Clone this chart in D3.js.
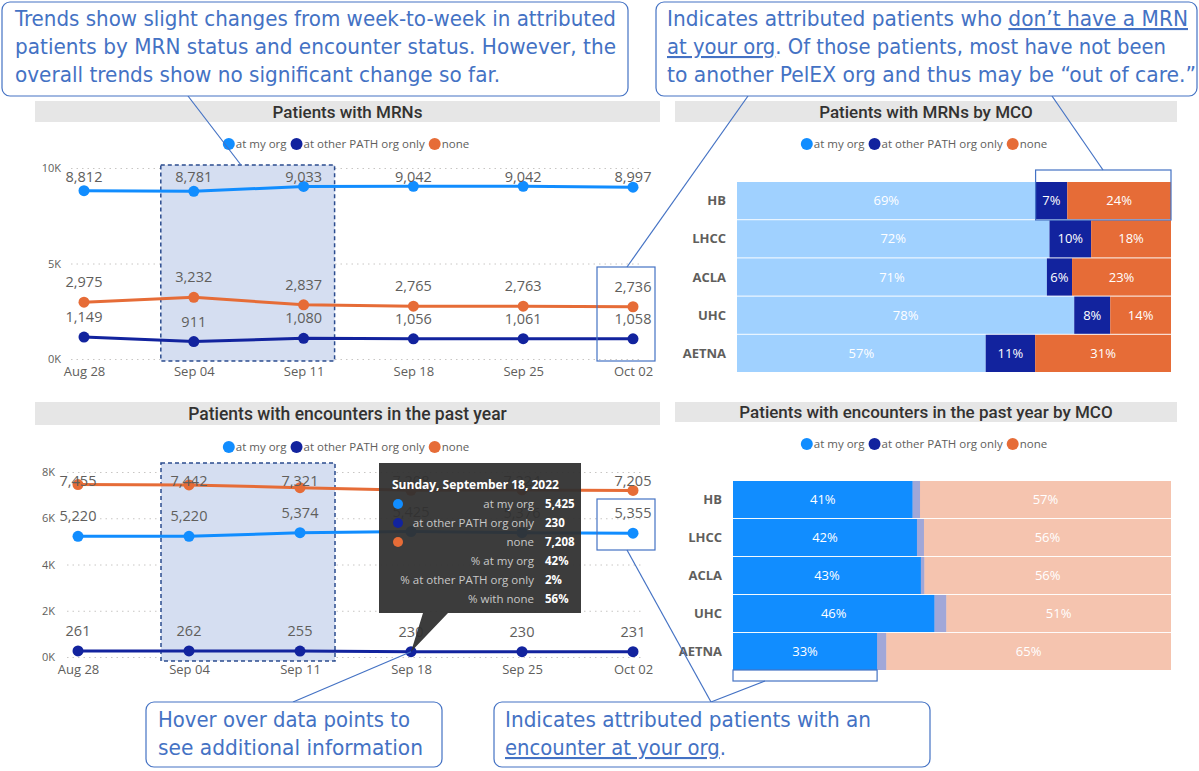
<!DOCTYPE html>
<html>
<head>
<meta charset="utf-8">
<script src="https://cdn.jsdelivr.net/npm/d3@7"></script>
<style>
	body { margin: 0; background: #fff; }
	svg text { font-family: "Open Sans", "Noto Sans", sans-serif; }
	.title { font-family: Roboto, sans-serif !important; font-weight: 500; fill: #333231; }
	.note { font-family: "Liberation Sans Narrow", "DejaVu Sans Condensed", sans-serif !important; fill: #4472C4; }
</style>
</head>
<body>
<div id="chart"></div>
<script>
// weeks on the x axis
var weeks = ['Aug 28', 'Sep 04', 'Sep 11', 'Sep 18', 'Sep 25', 'Oct 02'];
var seriesNames = ['at my org', 'at other PATH org only', 'none'];

// patients with MRNs
var mrnMyOrg = [8812, 8781, 9033, 9042, 9042, 8997];
var mrnOther = [1149, 911, 1080, 1056, 1061, 1058];
var mrnNone = [2975, 3232, 2837, 2765, 2763, 2736];

// patients with encounters in the past year
var encMyOrg = [5220, 5220, 5374, 5425, 5376, 5355];
var encOther = [261, 262, 255, 230, 230, 231];
var encNone = [7455, 7442, 7321, 7208, 7224, 7205];

// by MCO (percent of patients)
var mcos = ['HB', 'LHCC', 'ACLA', 'UHC', 'AETNA'];
var mcoMrnMyOrg = [68.8, 72.0, 71.4, 77.7, 57.3];
var mcoMrnOther = [7.3, 9.6, 5.8, 8.3, 11.4];
var mcoMrnNone = [23.9, 18.4, 22.8, 14.0, 31.3];
var mcoEncMyOrg = [41.0, 42.0, 42.9, 46.0, 32.9];
var mcoEncOther = [1.7, 1.6, 0.8, 2.7, 2.1];
var mcoEncNone = [57.3, 56.4, 56.3, 51.3, 65.0];

// y tick values
var mrnTicks = [0, 5000, 10000];
var encTicks = [0, 2000, 4000, 6000, 8000];

// tooltip shown on the encounters chart
var tipTitle = 'Sunday, September 18, 2022';
var tipIndex = 3;

var colors = ['#118DFF', '#12239E', '#E66C37'];
var noteBlue = '#4472C4';

var svg = d3.select('#chart')
	.append('svg')
	.attr('width', 1199)
	.attr('height', 771);

var back = svg.append('g');
var front = svg.append('g');

// title bar above each visual
function drawTitle(x0, x1, y0, y1, label, size) {
	back.append('rect')
		.attr('x', x0).attr('y', y0)
		.attr('width', x1 - x0).attr('height', y1 - y0)
		.attr('fill', '#E6E6E6');
	back.append('text')
		.classed('title', true)
		.attr('x', (x0 + x1) / 2)
		.attr('y', (y0 + y1) / 2)
		.attr('dy', '0.36em')
		.attr('text-anchor', 'middle')
		.style('font-size', size + 'px')
		.text(label);
}

// legend row, centred on cx
function drawLegend(cx, y) {
	var g = back.append('g');
	var pos = 0;
	seriesNames.forEach(function(name, i) {
		g.append('circle')
			.attr('cx', pos + 6).attr('cy', y)
			.attr('r', 6)
			.attr('fill', colors[i]);
		var t = g.append('text')
			.attr('x', pos + 13).attr('y', y)
			.attr('dy', '0.35em')
			.attr('fill', '#605E5C')
			.style('font-size', '11.5px')
			.text(name);
		pos += 13 + t.node().getComputedTextLength() + 4;
	});
	g.attr('transform', `translate(${cx - pos / 2},0)`);
}

function drawLineChart(c) {
	var xScale = d3.scalePoint().domain(weeks).range([c.x0, c.x1]);
	var yScale = d3.scaleLinear().domain([0, c.max]).range([c.yBottom, c.yTop]);

	// grid + y labels
	var yAxis = back.append('g')
		.attr('transform', `translate(${c.gridX0},0)`)
		.call(d3.axisLeft(yScale)
			.tickValues(c.ticks)
			.tickFormat(d => (d / 1000) + 'K')
			.tickSize(-(c.gridX1 - c.gridX0))
			.tickPadding(c.tickPad));
	yAxis.select('.domain').remove();
	yAxis.selectAll('line')
		.attr('stroke', '#C8C6C4')
		.attr('stroke-dasharray', '1.5,4');
	yAxis.selectAll('text')
		.attr('fill', '#605E5C')
		.style('font-size', '11px');

	// x labels
	var xAxis = back.append('g')
		.attr('transform', `translate(0,${c.yBottom})`)
		.call(d3.axisBottom(xScale).tickSize(0).tickPadding(c.xPad));
	xAxis.select('.domain').remove();
	xAxis.selectAll('text')
		.attr('fill', '#605E5C')
		.style('font-size', '13px');

	// selected weeks
	var hx0 = xScale(weeks[1]) - c.hlLeft,
		hx1 = xScale(weeks[2]) + c.hlRight;
	back.append('rect')
		.attr('x', hx0)
		.attr('y', c.hlTop)
		.attr('width', hx1 - hx0)
		.attr('height', c.hlBottom - c.hlTop)
		.attr('fill', '#D5DEF1')
		.attr('stroke', '#2B4C8F')
		.attr('stroke-width', 1.5)
		.attr('stroke-dasharray', '4,3');

	var line = d3.line()
		.x((d, i) => xScale(weeks[i]))
		.y(d => yScale(d));

	c.series.forEach(function(values, s) {
		back.append('path')
			.datum(values)
			.attr('d', line)
			.attr('fill', 'none')
			.attr('stroke', colors[s])
			.attr('stroke-width', 3);
		back.append('g').selectAll('circle')
			.data(values)
			.enter()
			.append('circle')
			.attr('cx', (d, i) => xScale(weeks[i]))
			.attr('cy', d => yScale(d))
			.attr('r', 5.5)
			.attr('fill', colors[s]);
		back.append('g').selectAll('text')
			.data(values)
			.enter()
			.append('text')
			.attr('x', (d, i) => xScale(weeks[i]))
			.attr('y', d => Math.max(yScale(d) - 20, c.yTop + 9))
			.attr('dy', '0.35em')
			.attr('text-anchor', 'middle')
			.attr('fill', '#605E5C')
			.style('font-size', '14.5px')
			.text(d => d3.format(',')(d));
	});

	return { x: xScale, y: yScale };
}

function drawBarChart(c) {
	var table = mcos.map((m, i) => ({ mco: m, my: c.my[i], other: c.other[i], none: c.none[i] }));
	var keys = ['my', 'other', 'none'];
	var stacked = d3.stack().keys(keys).offset(d3.stackOffsetExpand)(table);

	var xScale = d3.scaleLinear().domain([0, 1]).range([c.x0, c.x1]);
	var yScale = d3.scaleBand().domain(mcos).range([c.y0, c.y1]).paddingInner(0.025);

	stacked.forEach(function(layer, k) {
		var g = back.append('g');
		g.selectAll('rect')
			.data(layer)
			.enter()
			.append('rect')
			.attr('x', d => xScale(d[0]))
			.attr('y', d => yScale(d.data.mco))
			.attr('width', d => xScale(d[1]) - xScale(d[0]))
			.attr('height', yScale.bandwidth())
			.attr('fill', colors[k])
			.attr('fill-opacity', c.faded[k] ? 0.4 : 1);
		g.selectAll('text')
			.data(layer.filter(d => xScale(d[1]) - xScale(d[0]) > 15))
			.enter()
			.append('text')
			.attr('x', d => (xScale(d[0]) + xScale(d[1])) / 2)
			.attr('y', d => yScale(d.data.mco) + yScale.bandwidth() / 2)
			.attr('dy', '0.35em')
			.attr('text-anchor', 'middle')
			.attr('fill', '#fff')
			.style('font-size', '13px')
			.text(d => Math.round(d.data[keys[k]]) + '%');
	});

	back.append('g').selectAll('text')
		.data(mcos)
		.enter()
		.append('text')
		.attr('x', c.x0 - 11)
		.attr('y', d => yScale(d) + yScale.bandwidth() / 2)
		.attr('dy', '0.35em')
		.attr('text-anchor', 'end')
		.attr('fill', '#605E5C')
		.style('font-size', '13px')
		.style('font-weight', 700)
		.text(d => d);

	return { x: xScale, y: yScale };
}

// top left: patients with MRNs
drawTitle(35, 660, 101, 122, 'Patients with MRNs', 17);
drawLegend(348, 144);
var mrnChart = drawLineChart({
	x0: 84, x1: 633, yTop: 168, yBottom: 359, max: 10000, ticks: mrnTicks,
	gridX0: 71, gridX1: 642, tickPad: 10, xPad: 8,
	hlTop: 165, hlBottom: 361, hlLeft: 33, hlRight: 31,
	series: [mrnMyOrg, mrnOther, mrnNone]
});

// bottom left: encounters
drawTitle(35, 660, 402, 425, 'Patients with encounters in the past year', 17.5);
drawLegend(348, 447);
var encChart = drawLineChart({
	x0: 78, x1: 633, yTop: 472, yBottom: 657, max: 8000, ticks: encTicks,
	gridX0: 67, gridX1: 642, tickPad: 12, xPad: 8,
	hlTop: 463, hlBottom: 661, hlLeft: 28, hlRight: 35,
	series: [encMyOrg, encOther, encNone]
});

// top right: MRNs by MCO
drawTitle(675, 1177, 101, 122, 'Patients with MRNs by MCO', 17);
drawLegend(926, 144);
var mrnBars = drawBarChart({
	x0: 737, x1: 1171, y0: 182, y1: 372,
	my: mcoMrnMyOrg, other: mcoMrnOther, none: mcoMrnNone,
	faded: [true, false, false]
});

// bottom right: encounters by MCO
drawTitle(675, 1177, 402, 422, 'Patients with encounters in the past year by MCO', 17);
drawLegend(926, 444);
var encBars = drawBarChart({
	x0: 733, x1: 1171, y0: 481, y1: 670,
	my: mcoEncMyOrg, other: mcoEncOther, none: mcoEncNone,
	faded: [false, true, true]
});

// tooltip on Sep 18
var tipX = encChart.x(weeks[tipIndex]),
	tipY = encChart.y(encOther[tipIndex]);
var tipTotal = encMyOrg[tipIndex] + encOther[tipIndex] + encNone[tipIndex];
var tipRows = [
	{ label: 'at my org', value: d3.format(',')(encMyOrg[tipIndex]), dot: colors[0] },
	{ label: 'at other PATH org only', value: d3.format(',')(encOther[tipIndex]), dot: colors[1] },
	{ label: 'none', value: d3.format(',')(encNone[tipIndex]), dot: colors[2] },
	{ label: '% at my org', value: Math.round(encMyOrg[tipIndex] / tipTotal * 100) + '%' },
	{ label: '% at other PATH org only', value: Math.round(encOther[tipIndex] / tipTotal * 100) + '%' },
	{ label: '% with none', value: Math.round(encNone[tipIndex] / tipTotal * 100) + '%' }
];
var tip = front.append('g');
tip.append('path')
	.attr('d', `M379,463H581V613H448L${tipX},${tipY}L423,613H379Z`)
	.attr('fill', '#303030')
	.attr('fill-opacity', 0.94);
tip.append('text')
	.attr('x', 392).attr('y', 485)
	.attr('dy', '0.35em')
	.attr('fill', '#fff')
	.style('font-size', '12px')
	.style('font-weight', 700)
	.text(tipTitle);
tipRows.forEach(function(r, i) {
	var y = 504 + i * 19;
	if (r.dot) {
		tip.append('circle').attr('cx', 398).attr('cy', y).attr('r', 5).attr('fill', r.dot);
	}
	tip.append('text')
		.attr('x', 534).attr('y', y).attr('dy', '0.35em')
		.attr('text-anchor', 'end')
		.attr('fill', '#C8C8C8')
		.style('font-size', '11.5px')
		.text(r.label);
	tip.append('text')
		.attr('x', 545).attr('y', y).attr('dy', '0.35em')
		.attr('fill', '#fff')
		.style('font-size', '11.5px')
		.style('font-weight', 700)
		.text(r.value);
});

// annotation outlines
var lastX = mrnChart.x(weeks[5]);
var boxes = [
	[lastX - 36, 267, 58, 94],
	[lastX - 36, 499, 58, 51],
	[mrnBars.x(mcoMrnMyOrg[0] / 100), 170, 1171 - mrnBars.x(mcoMrnMyOrg[0] / 100), 50],
	[733, 670, encBars.x(mcoEncMyOrg[4] / 100) - 733, 11]
];
front.selectAll('.outline')
	.data(boxes)
	.enter()
	.append('rect')
	.classed('outline', true)
	.attr('x', d => d[0]).attr('y', d => d[1])
	.attr('width', d => d[2]).attr('height', d => d[3])
	.attr('fill', 'none')
	.attr('stroke', noteBlue)
	.attr('stroke-width', 1.2);

// pointer lines
var pointers = [
	[188, 96, 241, 165],
	[748, 96, lastX - 6, 267],
	[1052, 96, 1103, 170],
	[293, 702, tipX, tipY],
	[711, 702, lastX - 6, 550],
	[711, 702, 765, 681]
];
front.selectAll('.pointer')
	.data(pointers)
	.enter()
	.append('line')
	.classed('pointer', true)
	.attr('x1', d => d[0]).attr('y1', d => d[1])
	.attr('x2', d => d[2]).attr('y2', d => d[3])
	.attr('stroke', noteBlue)
	.attr('stroke-width', 1.2);

// callout boxes, each line is a list of [text, underlined]
var notes = [
	{ box: [2, 2, 626, 94], x: 15, ys: [26, 54, 82], widths: [601, 601, 485], lines: [
		[['Trends show slight changes from week-to-week in attributed', false]],
		[['patients by MRN status and encounter status. However, the', false]],
		[['overall trends show no significant change so far.', false]]
	]},
	{ box: [656, 2, 541, 94], x: 667, ys: [26, 54, 82], widths: [521, 499, 529], lines: [
		[['Indicates attributed patients who ', false], ['don\u2019t have a MRN', true]],
		[['at your org', true], ['. Of those patients, most have not been', false]],
		[['to another PelEX org and thus may be \u201cout of care.\u201d', false]]
	]},
	{ box: [146, 702, 296, 65], x: 158, ys: [727, 755], widths: [252, 265], lines: [
		[['Hover over data points to', false]],
		[['see additional information', false]]
	]},
	{ box: [494, 702, 436, 65], x: 505, ys: [727, 755], widths: [366, 221], lines: [
		[['Indicates attributed patients with an', false]],
		[['encounter at your org', true], ['.', false]]
	]}
];
notes.forEach(function(n) {
	front.append('rect')
		.attr('x', n.box[0]).attr('y', n.box[1])
		.attr('width', n.box[2]).attr('height', n.box[3])
		.attr('rx', 8)
		.attr('fill', '#fff')
		.attr('stroke', noteBlue)
		.attr('stroke-width', 1.2);
	n.lines.forEach(function(parts, i) {
		var t = front.append('text')
			.classed('note', true)
			.attr('x', n.x).attr('y', n.ys[i])
			.attr('textLength', n.widths[i])
			.attr('lengthAdjust', 'spacingAndGlyphs')
			.style('font-size', '21px');
		parts.forEach(function(p) {
			t.append('tspan')
				.style('text-decoration', p[1] ? 'underline' : 'none')
				.text(p[0]);
		});
	});
});
</script>
</body>
</html>
